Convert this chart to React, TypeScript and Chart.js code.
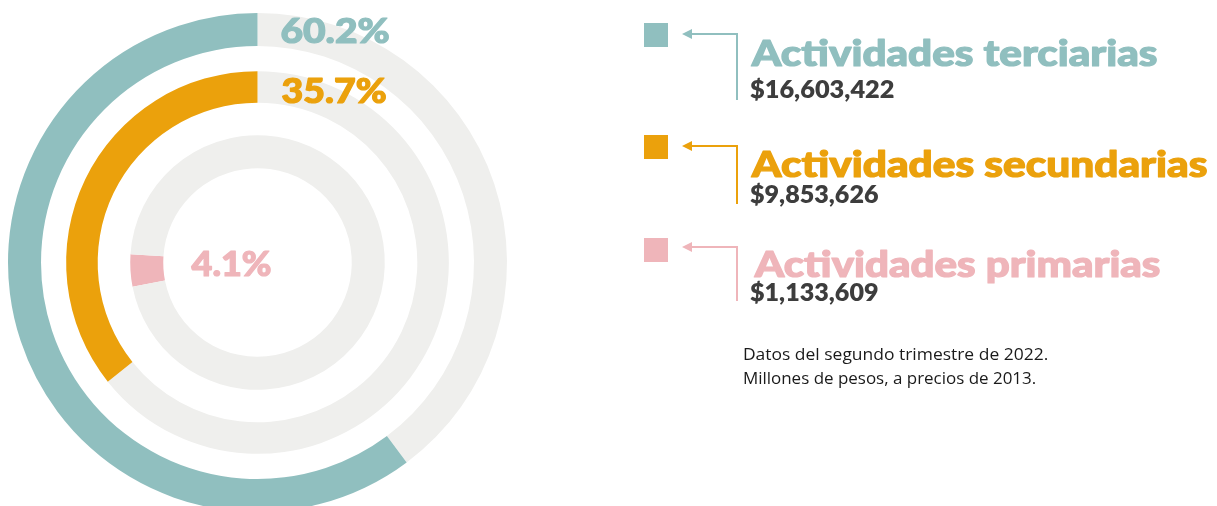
import React, { useEffect, useRef } from "react";
import { Chart, registerables } from "chart.js";

Chart.register(...registerables);

// ---- data ----
const categories = ["Actividades terciarias", "Actividades secundarias", "Actividades primarias"];
const shares = [60.2, 35.7, 4.1];
const percentLabels = ["60.2%", "35.7%", "4.1%"];
const amounts = ["$16,603,422", "$9,853,626", "$1,133,609"];
const notes = ["Datos del segundo trimestre de 2022.", "Millones de pesos, a precios de 2013."];

// ---- styles ----
const TEAL = "#90bfbf";
const ORANGE = "#eba10c";
const PINK = "#efb5ba";
const GRAY = "#efefed";
const DARK = "#3d3d3d";
const colors = [TEAL, ORANGE, PINK];

const TITLE_FONT = "900 36px Lato, 'Noto Sans', sans-serif";
const PCT_FONT = "900 34px Lato, 'Noto Sans', sans-serif";
const VALUE_FONT = "800 25px Lato, 'Open Sans', sans-serif";
const NOTE_FONT = "400 16px 'Open Sans', sans-serif";

function fitText(ctx: CanvasRenderingContext2D, text: string, x: number, y: number, font: string, color: string, w: number, stroke = 0) {
  ctx.save();
  ctx.font = font;
  ctx.textBaseline = "alphabetic";
  ctx.textAlign = "left";
  const m = ctx.measureText(text);
  const mw = m.actualBoundingBoxRight + m.actualBoundingBoxLeft || m.width;
  ctx.translate(x + stroke / 2, y);
  ctx.scale((w - stroke) / mw, 1);
  ctx.fillStyle = color;
  ctx.fillText(text, m.actualBoundingBoxLeft || 0, 0);
  if (stroke > 0) {
    ctx.strokeStyle = color;
    ctx.lineWidth = stroke;
    ctx.lineJoin = "round";
    ctx.strokeText(text, m.actualBoundingBoxLeft || 0, 0);
  }
  ctx.restore();
}

const overlayPlugin = {
  id: "overlay",
  afterDraw(chart: any) {
    const ctx: CanvasRenderingContext2D = chart.ctx;
    // percent labels
    const pctPos = [
      { x: 281, y: 43, w: 108 },
      { x: 281, y: 103, w: 105 },
      { x: 191, y: 276, w: 80 },
    ];
    percentLabels.forEach((t, i) => fitText(ctx, t, pctPos[i].x, pctPos[i].y, PCT_FONT, colors[i], pctPos[i].w, 1.2));

    // legend
    const rows = [
      { sq: 23, arrow: 34, lineEnd: 100, title: 66, titleW: 407, titleX: 750, value: 98, valueW: 144 },
      { sq: 135, arrow: 146, lineEnd: 204, title: 177, titleW: 457, titleX: 750, value: 203, valueW: 128 },
      { sq: 238, arrow: 247, lineEnd: 301, title: 277, titleW: 407, titleX: 753, value: 301, valueW: 128 },
    ];
    rows.forEach((r, i) => {
      const c = colors[i];
      ctx.save();
      ctx.fillStyle = c;
      ctx.fillRect(644, r.sq, 24, 24);
      // arrow head
      ctx.beginPath();
      ctx.moveTo(682, r.arrow);
      ctx.lineTo(692, r.arrow - 5);
      ctx.lineTo(692, r.arrow + 5);
      ctx.closePath();
      ctx.fill();
      ctx.strokeStyle = c;
      ctx.lineWidth = 2;
      ctx.beginPath();
      ctx.moveTo(690, r.arrow);
      ctx.lineTo(737, r.arrow);
      ctx.lineTo(737, r.lineEnd);
      ctx.stroke();
      ctx.restore();
      fitText(ctx, categories[i], r.titleX, r.title, TITLE_FONT, c, r.titleW, 1.2);
      fitText(ctx, amounts[i], 750, r.value, VALUE_FONT, DARK, r.valueW);
    });

    fitText(ctx, notes[0], 744, 360, NOTE_FONT, "#1a1a1a", 304);
    fitText(ctx, notes[1], 744, 384, NOTE_FONT, "#1a1a1a", 292);
  },
};

export default function App() {
  const ref = useRef<HTMLCanvasElement | null>(null);
  useEffect(() => {
    if (!ref.current) return;
    const spacer = (w: number) => ({
      data: [1],
      backgroundColor: ["rgba(0,0,0,0)"],
      weight: w,
      borderWidth: 0,
    });
    const chart = new Chart(ref.current, {
      type: "doughnut",
      data: {
        labels: ["resto", "valor"],
        datasets: [
          { data: [100 - shares[0], shares[0]], backgroundColor: [GRAY, TEAL], weight: 33.5, borderWidth: 0, rotation: 0 } as any,
          spacer(25.5) as any,
          { data: [100 - shares[1], shares[1]], backgroundColor: [GRAY, ORANGE], weight: 32, borderWidth: 0, rotation: 0 } as any,
          spacer(33) as any,
          { data: [shares[2], 100 - shares[2]], backgroundColor: [PINK, GRAY], weight: 33.5, borderWidth: 0, rotation: 259 } as any,
        ],
      },
      options: {
        responsive: false,
        devicePixelRatio: 1,
        animation: false,
        radius: 249.5,
        cutout: 92,
        layout: { padding: { left: 8, right: 710, top: 19, bottom: 0 } },
        plugins: { legend: { display: false }, tooltip: { enabled: false } },
        events: [],
      } as any,
      plugins: [overlayPlugin],
    });
    return () => chart.destroy();
  }, []);

  return (
    <div style={{ position: "fixed", left: 0, top: 0, width: 1217, height: 506, overflow: "hidden", background: "#fff" }}>
      <canvas ref={ref} width={1217} height={506} style={{ width: 1217, height: 506, display: "block" }} />
    </div>
  );
}
